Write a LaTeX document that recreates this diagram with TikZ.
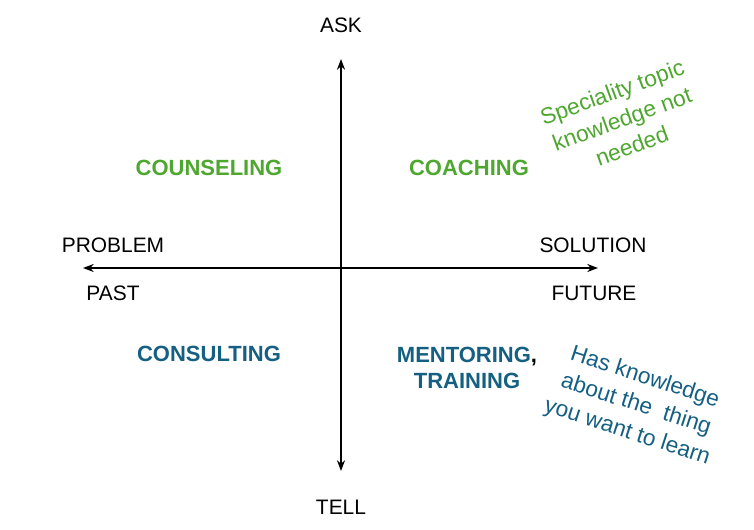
\documentclass[tikz,border=0pt]{standalone}
\usepackage{fontspec}
\setmainfont{Liberation Sans}
\usetikzlibrary{arrows.meta}
\definecolor{ogreen}{HTML}{4EA72E}
\definecolor{oblue}{HTML}{156082}
\begin{document}
\begin{tikzpicture}[x=0.75pt,y=-0.75pt,
  axis/.style={line width=1.3pt,{Stealth[length=8pt,width=6pt,inset=2.5pt]}-{Stealth[length=8pt,width=6pt,inset=2.5pt]}},
  lbl/.style={font=\fontsize{15.7pt}{18pt}\selectfont,text=black,inner sep=0pt},
  quad/.style={font=\fontsize{16.5pt}{20pt}\selectfont\bfseries,inner sep=0pt},
  note/.style={font=\fontsize{17pt}{21.5pt}\selectfont,align=center,inner sep=0pt}]
\useasboundingbox (0,0) rectangle (754,529);
\coordinate (top) at (341,59);
\coordinate (bot) at (341,471);
\coordinate (lft) at (83,268);
\coordinate (rgt) at (598,268);
\draw[axis] (top) -- (bot);
\draw[axis] (lft) -- (rgt);
\node[lbl] (ask) at (341,25) {ASK};
\node[lbl] (tell) at (341,507) {TELL};
\node[lbl] (problem) at (113,245) {PROBLEM};
\node[lbl] (past) at (113,293) {PAST};
\node[lbl] (solution) at (593,245) {SOLUTION};
\node[lbl] (future) at (594,293) {FUTURE};
\node[quad,text=ogreen] (counseling) at (209,168) {COUNSELING};
\node[quad,text=ogreen] (coaching) at (469,168) {COACHING};
\node[quad,text=oblue] (consulting) at (209,354) {CONSULTING};
\node[quad,text=oblue,align=center] (mentoring) at (467,368) {MENTORING\textcolor{black}{,}\\TRAINING};
\node[note,text=ogreen,rotate=20] (special) at (622,119) {Speciality topic\\knowledge not\\needed};
\node[note,text=oblue,rotate=-18] (has) at (636,405) {Has knowledge\\about the\ \ thing\\you want to learn};
\end{tikzpicture}
\end{document}
